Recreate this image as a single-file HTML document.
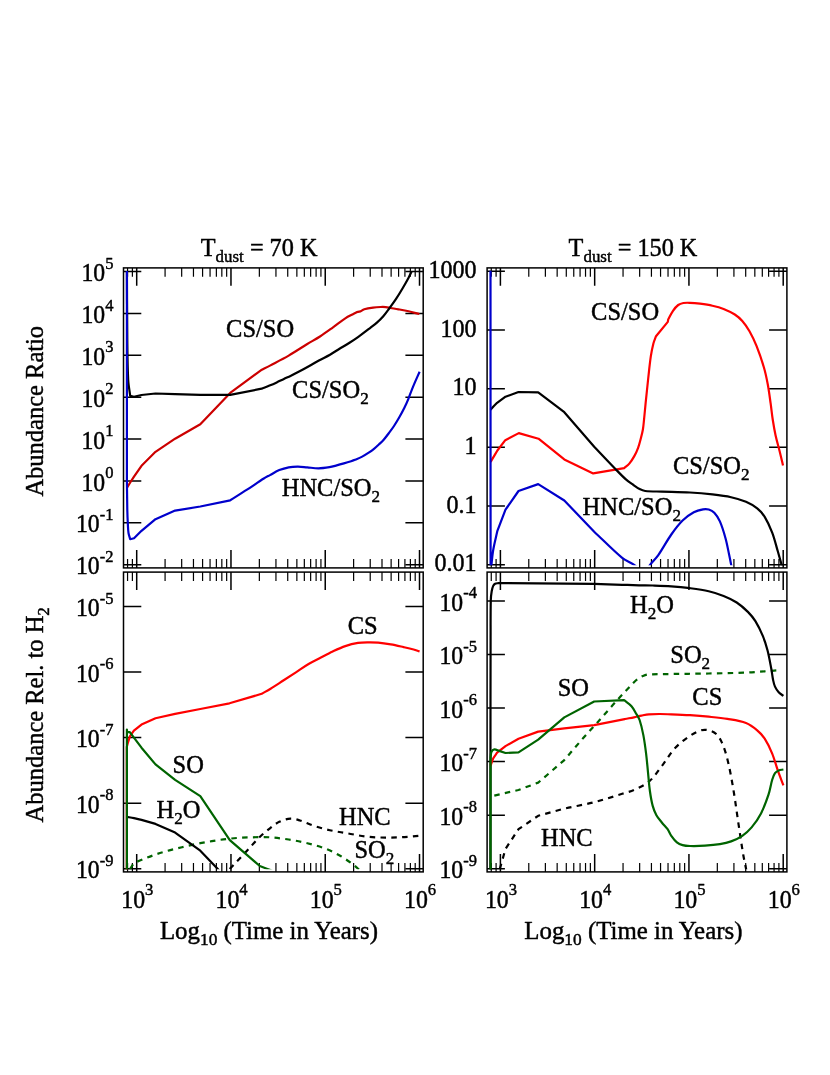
<!DOCTYPE html>
<html><head><meta charset="utf-8"><title>Abundance plots</title>
<style>html,body{margin:0;padding:0;background:#fff;overflow:hidden}svg{display:block;will-change:transform}</style></head>
<body>
<svg width="830" height="1075" viewBox="0 0 830 1075" font-family='"Liberation Serif", serif' font-size="24.8" fill="#000">
<style>text{stroke:#000;stroke-width:0.45px;stroke-linejoin:round}</style>
<rect width="830" height="1075" fill="#fff"/>
<defs>
<clipPath id="ctl"><rect x="125" y="271" width="296" height="294.2"/></clipPath>
<clipPath id="ctr"><rect x="488.8" y="270.7" width="296.2" height="294.5"/></clipPath>
<clipPath id="cbl"><rect x="125" y="575.5" width="296" height="293.7"/></clipPath>
<clipPath id="cbr"><rect x="488.8" y="575.5" width="296.2" height="293.7"/></clipPath>
</defs>
<path d="M127.56 267.9v8.9M127.56 567.9v-8.9M132.39 267.9v8.9M132.39 567.9v-8.9M165.08 267.9v8.9M165.08 567.9v-8.9M181.68 267.9v8.9M181.68 567.9v-8.9M193.46 267.9v8.9M193.46 567.9v-8.9M202.59 267.9v8.9M202.59 567.9v-8.9M210.06 267.9v8.9M210.06 567.9v-8.9M216.37 267.9v8.9M216.37 567.9v-8.9M221.83 267.9v8.9M221.83 567.9v-8.9M226.66 267.9v8.9M226.66 567.9v-8.9M259.35 267.9v8.9M259.35 567.9v-8.9M275.95 267.9v8.9M275.95 567.9v-8.9M287.73 267.9v8.9M287.73 567.9v-8.9M296.86 267.9v8.9M296.86 567.9v-8.9M304.33 267.9v8.9M304.33 567.9v-8.9M310.64 267.9v8.9M310.64 567.9v-8.9M316.1 267.9v8.9M316.1 567.9v-8.9M320.93 267.9v8.9M320.93 567.9v-8.9M353.62 267.9v8.9M353.62 567.9v-8.9M370.22 267.9v8.9M370.22 567.9v-8.9M382 267.9v8.9M382 567.9v-8.9M391.13 267.9v8.9M391.13 567.9v-8.9M398.6 267.9v8.9M398.6 567.9v-8.9M404.91 267.9v8.9M404.91 567.9v-8.9M410.37 267.9v8.9M410.37 567.9v-8.9M415.2 267.9v8.9M415.2 567.9v-8.9" stroke="#000" stroke-width="1.2" fill="none"/>
<path d="M136.7 267.9v17.8M136.7 567.9v-17.8M230.97 267.9v17.8M230.97 567.9v-17.8M325.24 267.9v17.8M325.24 567.9v-17.8M419.51 267.9v17.8M419.51 567.9v-17.8" stroke="#000" stroke-width="1.5" fill="none"/>
<path d="M123.5 271.6h17.8M423.2 271.6h-17.8M123.5 313.47h17.8M423.2 313.47h-17.8M123.5 355.34h17.8M423.2 355.34h-17.8M123.5 397.21h17.8M423.2 397.21h-17.8M123.5 439.08h17.8M423.2 439.08h-17.8M123.5 480.95h17.8M423.2 480.95h-17.8M123.5 522.82h17.8M423.2 522.82h-17.8M123.5 564.69h17.8M423.2 564.69h-17.8" stroke="#000" stroke-width="1.5" fill="none"/>
<path d="M491.26 267.9v8.9M491.26 567.9v-8.9M496.09 267.9v8.9M496.09 567.9v-8.9M528.78 267.9v8.9M528.78 567.9v-8.9M545.38 267.9v8.9M545.38 567.9v-8.9M557.16 267.9v8.9M557.16 567.9v-8.9M566.29 267.9v8.9M566.29 567.9v-8.9M573.76 267.9v8.9M573.76 567.9v-8.9M580.07 267.9v8.9M580.07 567.9v-8.9M585.53 267.9v8.9M585.53 567.9v-8.9M590.36 267.9v8.9M590.36 567.9v-8.9M623.05 267.9v8.9M623.05 567.9v-8.9M639.65 267.9v8.9M639.65 567.9v-8.9M651.43 267.9v8.9M651.43 567.9v-8.9M660.56 267.9v8.9M660.56 567.9v-8.9M668.03 267.9v8.9M668.03 567.9v-8.9M674.34 267.9v8.9M674.34 567.9v-8.9M679.8 267.9v8.9M679.8 567.9v-8.9M684.63 267.9v8.9M684.63 567.9v-8.9M717.32 267.9v8.9M717.32 567.9v-8.9M733.92 267.9v8.9M733.92 567.9v-8.9M745.7 267.9v8.9M745.7 567.9v-8.9M754.83 267.9v8.9M754.83 567.9v-8.9M762.3 267.9v8.9M762.3 567.9v-8.9M768.61 267.9v8.9M768.61 567.9v-8.9M774.07 267.9v8.9M774.07 567.9v-8.9M778.9 267.9v8.9M778.9 567.9v-8.9" stroke="#000" stroke-width="1.2" fill="none"/>
<path d="M500.4 267.9v17.8M500.4 567.9v-17.8M594.67 267.9v17.8M594.67 567.9v-17.8M688.94 267.9v17.8M688.94 567.9v-17.8M783.21 267.9v17.8M783.21 567.9v-17.8" stroke="#000" stroke-width="1.5" fill="none"/>
<path d="M487.1 271.3h17.8M786.9 271.3h-17.8M487.1 329.98h17.8M786.9 329.98h-17.8M487.1 388.66h17.8M786.9 388.66h-17.8M487.1 447.34h17.8M786.9 447.34h-17.8M487.1 506.02h17.8M786.9 506.02h-17.8M487.1 564.7h17.8M786.9 564.7h-17.8" stroke="#000" stroke-width="1.5" fill="none"/>
<path d="M127.56 572.1v8.9M127.56 871.9v-8.9M132.39 572.1v8.9M132.39 871.9v-8.9M165.08 572.1v8.9M165.08 871.9v-8.9M181.68 572.1v8.9M181.68 871.9v-8.9M193.46 572.1v8.9M193.46 871.9v-8.9M202.59 572.1v8.9M202.59 871.9v-8.9M210.06 572.1v8.9M210.06 871.9v-8.9M216.37 572.1v8.9M216.37 871.9v-8.9M221.83 572.1v8.9M221.83 871.9v-8.9M226.66 572.1v8.9M226.66 871.9v-8.9M259.35 572.1v8.9M259.35 871.9v-8.9M275.95 572.1v8.9M275.95 871.9v-8.9M287.73 572.1v8.9M287.73 871.9v-8.9M296.86 572.1v8.9M296.86 871.9v-8.9M304.33 572.1v8.9M304.33 871.9v-8.9M310.64 572.1v8.9M310.64 871.9v-8.9M316.1 572.1v8.9M316.1 871.9v-8.9M320.93 572.1v8.9M320.93 871.9v-8.9M353.62 572.1v8.9M353.62 871.9v-8.9M370.22 572.1v8.9M370.22 871.9v-8.9M382 572.1v8.9M382 871.9v-8.9M391.13 572.1v8.9M391.13 871.9v-8.9M398.6 572.1v8.9M398.6 871.9v-8.9M404.91 572.1v8.9M404.91 871.9v-8.9M410.37 572.1v8.9M410.37 871.9v-8.9M415.2 572.1v8.9M415.2 871.9v-8.9" stroke="#000" stroke-width="1.2" fill="none"/>
<path d="M136.7 572.1v17.8M136.7 871.9v-17.8M230.97 572.1v17.8M230.97 871.9v-17.8M325.24 572.1v17.8M325.24 871.9v-17.8M419.51 572.1v17.8M419.51 871.9v-17.8" stroke="#000" stroke-width="1.5" fill="none"/>
<path d="M123.5 606.5h17.8M423.2 606.5h-17.8M123.5 672.05h17.8M423.2 672.05h-17.8M123.5 737.6h17.8M423.2 737.6h-17.8M123.5 803.15h17.8M423.2 803.15h-17.8M123.5 868.7h17.8M423.2 868.7h-17.8" stroke="#000" stroke-width="1.5" fill="none"/>
<path d="M491.26 572.1v8.9M491.26 871.9v-8.9M496.09 572.1v8.9M496.09 871.9v-8.9M528.78 572.1v8.9M528.78 871.9v-8.9M545.38 572.1v8.9M545.38 871.9v-8.9M557.16 572.1v8.9M557.16 871.9v-8.9M566.29 572.1v8.9M566.29 871.9v-8.9M573.76 572.1v8.9M573.76 871.9v-8.9M580.07 572.1v8.9M580.07 871.9v-8.9M585.53 572.1v8.9M585.53 871.9v-8.9M590.36 572.1v8.9M590.36 871.9v-8.9M623.05 572.1v8.9M623.05 871.9v-8.9M639.65 572.1v8.9M639.65 871.9v-8.9M651.43 572.1v8.9M651.43 871.9v-8.9M660.56 572.1v8.9M660.56 871.9v-8.9M668.03 572.1v8.9M668.03 871.9v-8.9M674.34 572.1v8.9M674.34 871.9v-8.9M679.8 572.1v8.9M679.8 871.9v-8.9M684.63 572.1v8.9M684.63 871.9v-8.9M717.32 572.1v8.9M717.32 871.9v-8.9M733.92 572.1v8.9M733.92 871.9v-8.9M745.7 572.1v8.9M745.7 871.9v-8.9M754.83 572.1v8.9M754.83 871.9v-8.9M762.3 572.1v8.9M762.3 871.9v-8.9M768.61 572.1v8.9M768.61 871.9v-8.9M774.07 572.1v8.9M774.07 871.9v-8.9M778.9 572.1v8.9M778.9 871.9v-8.9" stroke="#000" stroke-width="1.2" fill="none"/>
<path d="M500.4 572.1v17.8M500.4 871.9v-17.8M594.67 572.1v17.8M594.67 871.9v-17.8M688.94 572.1v17.8M688.94 871.9v-17.8M783.21 572.1v17.8M783.21 871.9v-17.8" stroke="#000" stroke-width="1.5" fill="none"/>
<path d="M487.1 600.9h17.8M786.9 600.9h-17.8M487.1 654.46h17.8M786.9 654.46h-17.8M487.1 708.02h17.8M786.9 708.02h-17.8M487.1 761.58h17.8M786.9 761.58h-17.8M487.1 815.14h17.8M786.9 815.14h-17.8M487.1 868.7h17.8M786.9 868.7h-17.8" stroke="#000" stroke-width="1.5" fill="none"/>
<g clip-path="url(#ctl)" fill="none" stroke-linejoin="round" stroke-linecap="butt">
<path d="M126.9 487.8L130.2 482.5L134 476.6L141.5 465.8L155.5 451.8L175.1 438.7L200.3 424.3L230.2 392.9L261.2 370.1C264.13 368.6 267.09 367.14 270 365.6C276.25 362.3 282.58 359.14 288.7 355.6C295.02 351.94 301.06 347.81 307.3 344C311.5 341.44 315.87 339.17 320 336.5C324.34 333.7 328.5 330.62 332.7 327.6C336.94 324.55 340.93 321.16 345.3 318.3C348.12 316.45 351.23 315.1 354.2 313.5L356.7 312.2L360.5 311.4C361.77 310.7 362.91 309.72 364.3 309.3C367.16 308.44 370.14 308.01 373.1 307.6C375.62 307.25 378.16 307.1 380.7 307C382.4 306.93 384.11 306.93 385.8 307.1C387.49 307.27 389.13 307.71 390.8 308C393.33 308.44 395.87 308.83 398.4 309.3C401.81 309.93 405.22 310.54 408.6 311.3C412.22 312.11 415.8 313.1 419.4 314" stroke="#cc0000" stroke-width="2.2"/>
<path d="M126.9 260C127.03 286.67 127.01 313.33 127.3 340C127.44 353.34 127.51 366.68 128.2 380C128.48 385.33 129.53 390.6 130.2 395.9L134 396.8L141.5 395L155.5 393.5L175.1 394.1L200.3 394.9L230.2 394.8L261.7 388.7C264.3 387.67 266.92 386.68 269.5 385.6C271.92 384.58 274.32 383.51 276.7 382.4C279.12 381.27 281.49 380.04 283.9 378.9C286.09 377.87 288.32 376.95 290.5 375.9C293.56 374.42 296.59 372.88 299.6 371.3C302.86 369.58 306.08 367.8 309.3 366C312.52 364.2 315.66 362.27 318.9 360.5C322.56 358.5 326.37 356.76 330 354.7C333.24 352.86 336.32 350.75 339.5 348.8C342.69 346.85 345.94 345 349.1 343C352.11 341.1 355.11 339.17 358 337.1C362.28 334.04 366.43 330.8 370.6 327.6C372.73 325.97 374.9 324.39 376.9 322.6C379.15 320.58 381.32 318.48 383.3 316.2C385.56 313.6 387.55 310.77 389.6 308C391.75 305.1 393.91 302.21 395.9 299.2C398.11 295.87 400.17 292.44 402.2 289C404.4 285.27 406.55 281.51 408.6 277.7C409.72 275.61 410.69 273.45 411.7 271.3C412.76 269.05 413.77 266.77 414.8 264.5" stroke="#000000" stroke-width="2.2"/>
<path d="M126.9 260L126.9 480C127.03 490 127.08 500 127.3 510C127.41 515 127.64 520 127.9 525C128.04 527.67 128.07 530.36 128.5 533C128.84 535.12 129.63 537.13 130.2 539.2L134 538.3L141.5 530.8L155.5 519.2L175.1 510.6L200.3 506.5L230.2 500.3C235.8 496.77 241.45 493.3 247 489.7C252.65 486.04 258.12 482.11 263.8 478.5C265.79 477.24 267.93 476.22 270 475.1C273.09 473.42 276.05 471.45 279.3 470.1C282.32 468.84 285.49 467.9 288.7 467.3C291.76 466.73 294.89 466.58 298 466.6C301.11 466.62 304.2 467.14 307.3 467.4C311.07 467.71 314.82 468.35 318.6 468.3C322.25 468.25 325.89 467.68 329.5 467.1C331.93 466.71 334.31 466.01 336.7 465.4C339.11 464.78 341.51 464.1 343.9 463.4C346.31 462.7 348.71 461.97 351.1 461.2C352.41 460.77 353.72 460.33 355 459.8C357.43 458.79 359.87 457.82 362.2 456.6C364.72 455.28 367.13 453.77 369.5 452.2C371.17 451.1 372.76 449.87 374.3 448.6C375.96 447.24 377.54 445.78 379.1 444.3C380.67 442.81 382.28 441.34 383.7 439.7C385.65 437.46 387.42 435.07 389.2 432.7C390.85 430.5 392.49 428.3 394 426C395.86 423.16 397.62 420.25 399.3 417.3C401.08 414.18 402.81 411.03 404.4 407.8C405.85 404.85 407.15 401.83 408.4 398.8C409.58 395.93 410.56 392.98 411.7 390.1C412.79 387.35 413.93 384.62 415.1 381.9C416.57 378.49 418.1 375.1 419.6 371.7" stroke="#0000cc" stroke-width="2.2"/>
</g>
<g clip-path="url(#ctr)" fill="none" stroke-linejoin="round" stroke-linecap="butt">
<path d="M490.6 462C490.9 461.47 491.19 460.93 491.5 460.4C493.46 457.09 495.43 453.8 497.4 450.5L505.3 440.2L518.8 433.1L538.5 438.7L564.3 459.4L593.2 473.4L624.2 468.1C625.9 466.6 627.84 465.33 629.3 463.6C631.23 461.3 632.84 458.72 634.3 456.1C635.78 453.44 637.06 450.66 638.1 447.8C639.3 444.51 640.11 441.09 641 437.7C641.71 434.99 642.43 432.27 642.9 429.5C643.43 426.36 643.67 423.17 644 420C644.57 414.44 645.04 408.86 645.6 403.3C646.44 395.03 647.28 386.76 648.2 378.5C649.02 371.13 649.71 363.74 650.8 356.4C651.45 352.03 652.3 347.68 653.4 343.4C654.04 340.93 655.13 338.6 656 336.2L667.8 321.9L668.2 319.5C669.8 316.6 671.12 313.53 673 310.8C674.47 308.66 676.12 306.56 678.2 305C679.69 303.89 681.57 303.34 683.4 303C685.53 302.6 687.73 302.71 689.9 302.8C693.28 302.94 696.65 303.27 700 303.7C704.15 304.24 708.31 304.8 712.4 305.7C716.19 306.54 719.99 307.48 723.6 308.9C727.48 310.43 731.3 312.23 734.8 314.5C737.58 316.3 740.12 318.51 742.3 321C745.06 324.15 747.43 327.66 749.5 331.3C752.22 336.08 754.56 341.09 756.6 346.2C759.4 353.24 761.87 360.43 764 367.7C765.61 373.21 766.75 378.86 767.8 384.5C768.95 390.7 769.72 396.96 770.6 403.2C771.39 408.79 771.94 414.42 772.8 420C773.6 425.19 774.47 430.37 775.6 435.5C776.77 440.85 778.39 446.09 779.7 451.4C780.85 456.05 781.9 460.73 783 465.4" stroke="#ff0000" stroke-width="2.2"/>
<path d="M490.5 409.7L493.9 406L497.1 402.8L505.5 396.7L518.5 392L538.2 392.4L564.3 412.2L594.2 446.7C601.03 453.87 607.81 461.09 614.7 468.2C618.37 471.99 621.97 475.87 625.9 479.4C628.22 481.49 630.85 483.2 633.4 485C635.42 486.43 637.39 487.98 639.6 489.1C641.36 489.99 643.24 490.78 645.2 491C650.77 491.62 656.4 491.41 662 491.6C671.33 491.91 680.68 491.98 690 492.5C697.48 492.92 704.96 493.55 712.4 494.4C718.66 495.12 724.94 495.84 731.1 497.2C736.18 498.32 741.22 499.75 746 501.8C749.98 503.51 753.82 505.69 757.2 508.4C760.13 510.75 762.72 513.61 764.7 516.8C767.77 521.76 770.13 527.15 772.2 532.6C774.51 538.68 775.97 545.05 777.8 551.3C779.07 555.66 780.28 560.03 781.5 564.4C782.02 566.26 782.5 568.13 783 570" stroke="#000000" stroke-width="2.2"/>
<path d="M490.5 260L490.6 576C490.9 572.13 491.11 568.26 491.5 564.4C492.01 559.42 492.43 554.43 493.3 549.5C494.4 543.21 496.03 537.03 497.4 530.8L505.5 509.7L518.5 491L538.2 484.1L564.3 500.5L594.2 531.7C603.53 540.43 612.38 549.71 622.2 557.9C625.51 560.67 629.81 562 633.4 564.4C636.1 566.21 638.47 568.47 641 570.5" stroke="#0000cc" stroke-width="2.2"/>
<path d="M646.5 570C647.8 568.13 648.99 566.18 650.4 564.4C652.93 561.21 655.97 558.43 658.3 555.1C662.95 548.44 666.63 541.14 671.3 534.5C674.75 529.59 678.33 524.71 682.6 520.5C685.89 517.25 689.74 514.52 693.8 512.3C696.66 510.74 699.9 509.9 703.1 509.3C704.94 508.96 706.92 508.94 708.7 509.5C710.77 510.15 712.82 511.22 714.3 512.8C716.64 515.29 718.52 518.27 719.9 521.4C722.28 526.8 723.93 532.51 725.5 538.2C727.03 543.73 728 549.39 729.2 555C729.87 558.13 730.47 561.27 731.1 564.4C731.51 566.43 731.9 568.47 732.3 570.5" stroke="#0000cc" stroke-width="2.2"/>
</g>
<g clip-path="url(#cbl)" fill="none" stroke-linejoin="round" stroke-linecap="butt">
<path d="M130 869L134 862.9C141.17 860.1 148.22 856.98 155.5 854.5C161.93 852.31 168.51 850.56 175.1 848.9C183.45 846.79 191.83 844.78 200.3 843.2C210.21 841.35 220.17 839.64 230.2 838.6C239.79 837.6 249.46 837.41 259.1 837.1C262.73 836.98 266.38 837.01 270 837.3C276.26 837.81 282.5 838.52 288.7 839.5C294.94 840.49 301.17 841.66 307.3 843.2C313.62 844.79 319.93 846.54 326 848.9C331.2 850.92 336.15 853.54 341 856.3C344.91 858.52 348.56 861.16 352.2 863.8C354.17 865.23 356.02 866.84 357.8 868.5C358.96 869.58 359.93 870.83 361 872" stroke="#006400" stroke-width="2.2" stroke-dasharray="5.5 5.3"/>
<path d="M229.7 869C235.47 862.9 241.26 856.82 247 850.7C251.36 846.06 255.44 841.14 260 836.7C263.12 833.66 266.55 830.96 270 828.3C272.99 825.99 275.88 823.42 279.3 821.8C282.81 820.14 286.62 818.84 290.5 818.6C293.69 818.4 296.84 819.56 299.9 820.5C304.37 821.87 308.55 824.06 313 825.5C318.53 827.29 324.13 828.92 329.8 830.2C335.94 831.59 342.2 832.42 348.4 833.5C354.63 834.59 360.81 836.01 367.1 836.7C373.3 837.38 379.56 837.53 385.8 837.6C392.04 837.67 398.27 837.43 404.5 837.1C409.48 836.83 414.43 836.23 419.4 835.8" stroke="#000000" stroke-width="2.2" stroke-dasharray="5.5 5.3"/>
<path d="M126.9 816.9C129.27 817.33 131.64 817.72 134 818.2C136.51 818.72 139 819.33 141.5 819.9L155.5 823.9L175.1 832.6L200.3 850.7L230.2 882" stroke="#000000" stroke-width="2.2"/>
<path d="M126.8 876L126.8 747C127.23 745.4 127.63 743.79 128.1 742.2C128.7 740.19 129.37 738.2 130 736.2L133.9 730.7L141.5 724.6L155.5 718.2L175.1 713.9L200.3 709L229.5 703.3L261.7 693.8C264.67 692.1 267.69 690.49 270.6 688.7C274.89 686.06 279.07 683.24 283.3 680.5C287.5 677.77 291.7 675.04 295.9 672.3C300.14 669.54 304.25 666.58 308.6 664C312.29 661.81 316.19 659.98 320 658C324.22 655.81 328.4 653.52 332.7 651.5C336.83 649.56 340.97 647.57 345.3 646.1C349.43 644.69 353.69 643.62 358 642.9C361.33 642.35 364.73 642.35 368.1 642.3C371.47 642.25 374.85 642.29 378.2 642.6C382.42 642.99 386.62 643.66 390.8 644.4C395.06 645.16 399.28 646.16 403.5 647.1C406.88 647.86 410.26 648.61 413.6 649.5C415.63 650.04 417.6 650.77 419.6 651.4" stroke="#ff0000" stroke-width="2.2"/>
<path d="M126.9 876L126.9 729.6L127.1 731.9L129.8 732.1L133.9 737.6L141.5 747.7L155.5 764.4L175.1 779.8L200.3 796.2L229.8 840.2L259.8 866C262.13 866.9 264.47 867.78 266.8 868.7C268.54 869.38 270.27 870.1 272 870.8" stroke="#006400" stroke-width="2.2"/>
</g>
<g clip-path="url(#cbr)" fill="none" stroke-linejoin="round" stroke-linecap="butt">
<path d="M494.3 795.6L518.5 790L538.2 782.6L564.3 760.1C569.9 753.57 575.42 746.96 581.1 740.5C586.62 734.23 592.33 728.13 597.9 721.9C604.8 714.19 611.53 706.34 618.5 698.7C623.57 693.14 628.71 687.65 634 682.3C635.38 680.9 636.9 679.64 638.5 678.5C639.91 677.5 641.4 676.57 643 675.9C644.6 675.23 646.27 674.62 648 674.5C655.75 673.98 663.53 674.13 671.3 674C683.77 673.79 696.23 673.73 708.7 673.5C721.13 673.27 733.57 673.09 746 672.6C752.24 672.35 758.47 671.74 764.7 671.3C769.37 670.97 774.03 670.63 778.7 670.3" stroke="#006400" stroke-width="2.2" stroke-dasharray="5.5 5.3"/>
<path d="M499.8 869L505.5 848.9L518.5 829.2L538.2 815.8C546.9 813.43 555.54 810.83 564.3 808.7C574.21 806.29 584.32 804.74 594.2 802.2C603.64 799.77 612.88 796.66 622.2 793.8C626.15 792.59 630.24 791.71 634 790C639.22 787.63 644.66 785.35 649 781.6C654.16 777.14 657.82 771.19 662 765.8C666.52 759.98 670.06 753.38 675.1 748C679.47 743.33 684.7 739.49 690 735.9C693.45 733.56 697.2 731.5 701.2 730.3C703.59 729.58 706.27 729.7 708.7 730.3C711.41 730.97 714.15 732.11 716.2 734C718.67 736.28 720.43 739.32 721.8 742.4C724.2 747.79 725.97 753.47 727.4 759.2C729.71 768.43 731.39 777.82 733 787.2C735.13 799.62 736.71 812.14 738.6 824.6C740.11 834.57 741.52 844.56 743.2 854.5C743.99 859.19 745.04 863.84 746 868.5C746.31 870.01 746.67 871.5 747 873" stroke="#000000" stroke-width="2.2" stroke-dasharray="5.5 5.3"/>
<path d="M490.4 876C490.43 817.33 490.45 758.67 490.5 700C490.52 680 490.54 660 490.6 640C490.64 626.67 490.5 613.33 490.8 600C490.87 597.05 491.21 594.11 491.7 591.2C492.01 589.39 492.44 587.57 493.2 585.9C493.6 585.02 494.24 584.15 495.1 583.7C496.12 583.16 497.37 583.3 498.5 583.1L594.2 583.9C603.53 584.2 612.87 584.51 622.2 584.8C627.8 584.97 633.4 585.17 639 585.3C643.57 585.4 648.14 585.36 652.7 585.5C658.9 585.69 665.11 585.85 671.3 586.3C677.55 586.75 683.79 587.37 690 588.2C696.26 589.04 702.55 589.87 708.7 591.3C713.77 592.48 718.76 594.07 723.6 596C728.13 597.81 732.62 599.83 736.7 602.5C740.78 605.17 744.45 608.45 747.9 611.9C750.72 614.72 753.31 617.81 755.4 621.2C758.34 625.96 760.75 631.04 762.9 636.2C764.79 640.73 766.27 645.44 767.5 650.2C769.08 656.33 770.13 662.58 771.3 668.8C772 672.52 772.33 676.3 773.1 680C773.57 682.24 774.04 684.52 775 686.6C775.93 688.63 777.2 690.54 778.7 692.2C780.04 693.68 781.83 694.67 783.4 695.9" stroke="#000000" stroke-width="2.2"/>
<path d="M490.6 765.5C491.5 763.1 492.14 760.59 493.3 758.3C494.32 756.29 495.83 754.57 497.1 752.7L505.5 746.1L518.5 738.7L538.2 731.6L564.3 728.4L594.2 725.2C604.47 723.13 614.73 721.04 625 719C627.99 718.41 631.01 717.92 634 717.3C636.51 716.78 638.99 716.11 641.5 715.6C643.96 715.11 646.4 714.52 648.9 714.3C652.59 713.98 656.3 714 660 714C663.77 714 667.54 714.15 671.3 714.3C677.54 714.55 683.77 714.8 690 715.2C696.24 715.6 702.48 716.08 708.7 716.7C714.95 717.32 721.21 717.85 727.4 718.9C733.66 719.96 740.07 720.73 746 723C750.16 724.59 753.79 727.43 757.2 730.3C760.07 732.71 762.67 735.54 764.7 738.7C767.71 743.38 770.08 748.46 772.2 753.6C774.45 759.06 775.84 764.83 777.8 770.4C779.57 775.43 781.53 780.4 783.4 785.4" stroke="#ff0000" stroke-width="2.2"/>
<path d="M490.6 876L490.6 757.3C490.9 755.43 490.71 753.42 491.5 751.7C492.02 750.58 493.08 749.45 494.3 749.3C495.93 749.1 497.44 750.28 499 750.8C501.17 751.52 503.33 752.27 505.5 753L518.5 752.3L538.2 739.6L564.3 717.4L594.2 701.5L624.1 700.2C626.57 702.2 629.38 703.84 631.5 706.2C633.47 708.4 634.71 711.16 636.2 713.7C637.41 715.76 638.84 717.74 639.6 720C641.23 724.85 642.33 729.88 643.3 734.9C644.5 741.09 645.31 747.35 646.1 753.6C646.88 759.82 647.37 766.07 648 772.3C648.63 778.53 649.03 784.79 649.9 791C650.6 796 651.39 801.02 652.7 805.9C653.57 809.12 654.78 812.28 656.4 815.2C657.91 817.93 660.05 820.26 662 822.7C663.79 824.93 665.94 826.87 667.6 829.2C669.06 831.26 669.84 833.74 671.3 835.8C672.96 838.13 674.69 840.48 676.9 842.3C678.53 843.65 680.56 844.52 682.6 845.1C684.99 845.78 687.52 845.93 690 846C695 846.13 700.01 846 705 845.7C709.98 845.4 714.97 845.01 719.9 844.2C723.7 843.57 727.5 842.75 731.1 841.4C735.01 839.93 738.85 838.15 742.3 835.8C745.75 833.44 748.92 830.61 751.6 827.4C755.2 823.08 758.42 818.39 761 813.4C764.08 807.43 766.38 801.07 768.5 794.7C770.12 789.85 770.72 784.7 772.2 779.8C772.89 777.51 773.64 775.17 775 773.2C775.88 771.93 777.28 771.02 778.7 770.4C780.16 769.76 781.83 769.8 783.4 769.5" stroke="#006400" stroke-width="2.2"/>
</g>
<rect x="123.5" y="267.9" width="299.7" height="300" fill="none" stroke="#000" stroke-width="1.5"/>
<rect x="487.1" y="267.9" width="299.8" height="300" fill="none" stroke="#000" stroke-width="1.5"/>
<rect x="123.5" y="572.1" width="299.7" height="299.8" fill="none" stroke="#000" stroke-width="1.5"/>
<rect x="487.1" y="572.1" width="299.8" height="299.8" fill="none" stroke="#000" stroke-width="1.5"/>
<text text-anchor="end" transform="translate(113.4 281.2) scale(0.955 1)"><tspan dy="0" font-size="24.8">10</tspan><tspan dy="-12.5" font-size="17.3">5</tspan></text>
<text text-anchor="end" transform="translate(113.4 323.07) scale(0.955 1)"><tspan dy="0" font-size="24.8">10</tspan><tspan dy="-12.5" font-size="17.3">4</tspan></text>
<text text-anchor="end" transform="translate(113.4 364.94) scale(0.955 1)"><tspan dy="0" font-size="24.8">10</tspan><tspan dy="-12.5" font-size="17.3">3</tspan></text>
<text text-anchor="end" transform="translate(113.4 406.81) scale(0.955 1)"><tspan dy="0" font-size="24.8">10</tspan><tspan dy="-12.5" font-size="17.3">2</tspan></text>
<text text-anchor="end" transform="translate(113.4 448.68) scale(0.955 1)"><tspan dy="0" font-size="24.8">10</tspan><tspan dy="-12.5" font-size="17.3">1</tspan></text>
<text text-anchor="end" transform="translate(113.4 490.55) scale(0.955 1)"><tspan dy="0" font-size="24.8">10</tspan><tspan dy="-12.5" font-size="17.3">0</tspan></text>
<text text-anchor="end" transform="translate(113.4 532.42) scale(0.955 1)"><tspan dy="0" font-size="24.8">10</tspan><tspan dy="-12.5" font-size="17.3">-1</tspan></text>
<text text-anchor="end" transform="translate(113.4 574.29) scale(0.955 1)"><tspan dy="0" font-size="24.8">10</tspan><tspan dy="-12.5" font-size="17.3">-2</tspan></text>
<text text-anchor="end" transform="translate(113.4 616.1) scale(0.955 1)"><tspan dy="0" font-size="24.8">10</tspan><tspan dy="-12.5" font-size="17.3">-5</tspan></text>
<text text-anchor="end" transform="translate(113.4 681.65) scale(0.955 1)"><tspan dy="0" font-size="24.8">10</tspan><tspan dy="-12.5" font-size="17.3">-6</tspan></text>
<text text-anchor="end" transform="translate(113.4 747.2) scale(0.955 1)"><tspan dy="0" font-size="24.8">10</tspan><tspan dy="-12.5" font-size="17.3">-7</tspan></text>
<text text-anchor="end" transform="translate(113.4 812.75) scale(0.955 1)"><tspan dy="0" font-size="24.8">10</tspan><tspan dy="-12.5" font-size="17.3">-8</tspan></text>
<text text-anchor="end" transform="translate(113.4 878.3) scale(0.955 1)"><tspan dy="0" font-size="24.8">10</tspan><tspan dy="-12.5" font-size="17.3">-9</tspan></text>
<text text-anchor="end" transform="translate(476.6 277.9) scale(0.97 1)"><tspan dy="0" font-size="24.8">1000</tspan></text>
<text text-anchor="end" transform="translate(476.6 336.58) scale(0.97 1)"><tspan dy="0" font-size="24.8">100</tspan></text>
<text text-anchor="end" transform="translate(476.6 395.26) scale(0.97 1)"><tspan dy="0" font-size="24.8">10</tspan></text>
<text text-anchor="end" transform="translate(476.6 453.94) scale(0.97 1)"><tspan dy="0" font-size="24.8">1</tspan></text>
<text text-anchor="end" transform="translate(476.6 512.62) scale(0.97 1)"><tspan dy="0" font-size="24.8">0.1</tspan></text>
<text text-anchor="end" transform="translate(476.6 571.3) scale(0.97 1)"><tspan dy="0" font-size="24.8">0.01</tspan></text>
<text text-anchor="end" transform="translate(476.9 610.5) scale(0.955 1)"><tspan dy="0" font-size="24.8">10</tspan><tspan dy="-12.5" font-size="17.3">-4</tspan></text>
<text text-anchor="end" transform="translate(476.9 664.06) scale(0.955 1)"><tspan dy="0" font-size="24.8">10</tspan><tspan dy="-12.5" font-size="17.3">-5</tspan></text>
<text text-anchor="end" transform="translate(476.9 717.62) scale(0.955 1)"><tspan dy="0" font-size="24.8">10</tspan><tspan dy="-12.5" font-size="17.3">-6</tspan></text>
<text text-anchor="end" transform="translate(476.9 771.18) scale(0.955 1)"><tspan dy="0" font-size="24.8">10</tspan><tspan dy="-12.5" font-size="17.3">-7</tspan></text>
<text text-anchor="end" transform="translate(476.9 824.74) scale(0.955 1)"><tspan dy="0" font-size="24.8">10</tspan><tspan dy="-12.5" font-size="17.3">-8</tspan></text>
<text text-anchor="end" transform="translate(476.9 878.3) scale(0.955 1)"><tspan dy="0" font-size="24.8">10</tspan><tspan dy="-12.5" font-size="17.3">-9</tspan></text>
<text text-anchor="start" transform="translate(121.2 907.7) scale(0.962 1)"><tspan dy="0" font-size="24.8">10</tspan><tspan dy="-12.5" font-size="17.3">3</tspan></text>
<text text-anchor="start" transform="translate(215.47 907.7) scale(0.962 1)"><tspan dy="0" font-size="24.8">10</tspan><tspan dy="-12.5" font-size="17.3">4</tspan></text>
<text text-anchor="start" transform="translate(309.74 907.7) scale(0.962 1)"><tspan dy="0" font-size="24.8">10</tspan><tspan dy="-12.5" font-size="17.3">5</tspan></text>
<text text-anchor="start" transform="translate(404.01 907.7) scale(0.962 1)"><tspan dy="0" font-size="24.8">10</tspan><tspan dy="-12.5" font-size="17.3">6</tspan></text>
<text text-anchor="start" transform="translate(484.9 907.7) scale(0.962 1)"><tspan dy="0" font-size="24.8">10</tspan><tspan dy="-12.5" font-size="17.3">3</tspan></text>
<text text-anchor="start" transform="translate(579.17 907.7) scale(0.962 1)"><tspan dy="0" font-size="24.8">10</tspan><tspan dy="-12.5" font-size="17.3">4</tspan></text>
<text text-anchor="start" transform="translate(673.44 907.7) scale(0.962 1)"><tspan dy="0" font-size="24.8">10</tspan><tspan dy="-12.5" font-size="17.3">5</tspan></text>
<text text-anchor="start" transform="translate(767.71 907.7) scale(0.962 1)"><tspan dy="0" font-size="24.8">10</tspan><tspan dy="-12.5" font-size="17.3">6</tspan></text>
<text text-anchor="start" transform="translate(200.8 255.7) scale(0.978 1)"><tspan dy="0" font-size="24.8">T</tspan><tspan dy="6" font-size="17.3">dust</tspan><tspan dy="-6" font-size="24.8"> = 70 K</tspan></text>
<text text-anchor="start" transform="translate(568.6 255.7) scale(0.978 1)"><tspan dy="0" font-size="24.8">T</tspan><tspan dy="6" font-size="17.3">dust</tspan><tspan dy="-6" font-size="24.8"> = 150 K</tspan></text>
<text text-anchor="start" transform="translate(159.9 939) scale(1.003 1)"><tspan dy="0" font-size="24.8">Log</tspan><tspan dy="6" font-size="17.3">10</tspan><tspan dy="-6" font-size="24.8"> (Time in Years)</tspan></text>
<text text-anchor="start" transform="translate(524.3 939) scale(1.003 1)"><tspan dy="0" font-size="24.8">Log</tspan><tspan dy="6" font-size="17.3">10</tspan><tspan dy="-6" font-size="24.8"> (Time in Years)</tspan></text>
<text text-anchor="start" transform="translate(42.9 496.6) rotate(-90) scale(0.988 1)"><tspan dy="0" font-size="24.8">Abundance Ratio</tspan></text>
<text text-anchor="start" transform="translate(42.9 822.4) rotate(-90) scale(0.988 1)"><tspan dy="0" font-size="24.8">Abundance Rel. to H</tspan><tspan dy="6" font-size="17.3">2</tspan></text>
<text text-anchor="start" transform="translate(226.1 336.6) scale(0.988 1)"><tspan dy="0" font-size="24.8">CS/SO</tspan></text>
<text text-anchor="start" transform="translate(292.1 398.2) scale(0.988 1)"><tspan dy="0" font-size="24.8">CS/SO</tspan><tspan dy="6" font-size="17.3">2</tspan></text>
<text text-anchor="start" transform="translate(281.7 495.9) scale(0.988 1)"><tspan dy="0" font-size="24.8">HNC/SO</tspan><tspan dy="6" font-size="17.3">2</tspan></text>
<text text-anchor="start" transform="translate(591.1 320.2) scale(0.988 1)"><tspan dy="0" font-size="24.8">CS/SO</tspan></text>
<text text-anchor="start" transform="translate(672.9 473.9) scale(0.988 1)"><tspan dy="0" font-size="24.8">CS/SO</tspan><tspan dy="6" font-size="17.3">2</tspan></text>
<text text-anchor="start" transform="translate(582.6 515) scale(0.988 1)"><tspan dy="0" font-size="24.8">HNC/SO</tspan><tspan dy="6" font-size="17.3">2</tspan></text>
<text text-anchor="start" transform="translate(347.7 634) scale(0.988 1)"><tspan dy="0" font-size="24.8">CS</tspan></text>
<text text-anchor="start" transform="translate(172.6 772.8) scale(0.988 1)"><tspan dy="0" font-size="24.8">SO</tspan></text>
<text text-anchor="start" transform="translate(156.6 818.1) scale(0.988 1)"><tspan dy="0" font-size="24.8">H</tspan><tspan dy="6" font-size="17.3">2</tspan><tspan dy="-6" font-size="24.8">O</tspan></text>
<text text-anchor="start" transform="translate(339 824.6) scale(0.988 1)"><tspan dy="0" font-size="24.8">HNC</tspan></text>
<text text-anchor="start" transform="translate(354.5 858.3) scale(0.988 1)"><tspan dy="0" font-size="24.8">SO</tspan><tspan dy="6" font-size="17.3">2</tspan></text>
<text text-anchor="start" transform="translate(630.1 612.9) scale(0.988 1)"><tspan dy="0" font-size="24.8">H</tspan><tspan dy="6" font-size="17.3">2</tspan><tspan dy="-6" font-size="24.8">O</tspan></text>
<text text-anchor="start" transform="translate(670.3 662.9) scale(0.988 1)"><tspan dy="0" font-size="24.8">SO</tspan><tspan dy="6" font-size="17.3">2</tspan></text>
<text text-anchor="start" transform="translate(692.3 705.3) scale(0.988 1)"><tspan dy="0" font-size="24.8">CS</tspan></text>
<text text-anchor="start" transform="translate(557.7 695.5) scale(0.988 1)"><tspan dy="0" font-size="24.8">SO</tspan></text>
<text text-anchor="start" transform="translate(541 845.7) scale(0.988 1)"><tspan dy="0" font-size="24.8">HNC</tspan></text>
</svg>
</body></html>
